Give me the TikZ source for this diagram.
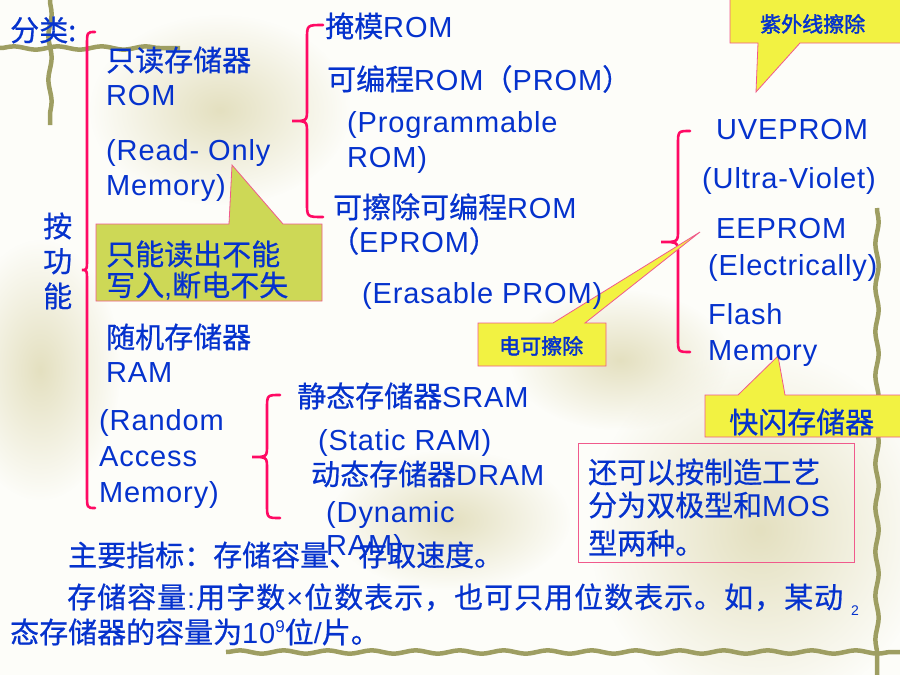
\documentclass[tikz,border=0pt]{standalone}
\usepackage{fontspec}
\setmainfont{Liberation Sans}[LetterSpace=3]
\newfontfamily\lat{Liberation Sans}[LetterSpace=3]
\newfontfamily\cjk{Noto Sans CJK SC}[FakeBold=0.6]
\newfontfamily\cjkb{Noto Sans CJK SC}[FakeBold=2]
\usetikzlibrary{decorations.pathmorphing,fadings}
\tikzfading[name=softblob, inner color=transparent!0, outer color=transparent!100]
\definecolor{tblue}{RGB}{5,50,205}
\definecolor{bpink}{RGB}{255,10,100}
\definecolor{cpink}{RGB}{240,90,140}
\definecolor{cyel}{RGB}{242,242,66}
\definecolor{colive}{RGB}{205,216,86}
\definecolor{vine}{RGB}{158,158,98}
\definecolor{beige}{RGB}{228,224,192}
\definecolor{bgc}{RGB}{253,253,249}
\def\spr#1{{#1}\futurelet\sprnext\sprstep}
\def\sprstep{\ifx\sprnext\relax\else\hfil\expandafter\spr\fi}
\newcommand{\pbrace}[6]{% xtip xmid xend ytop ymid ybot
  \draw[bracepath] (#3,#4) .. controls (#2,#4) .. (#2,#4+14) -- (#2,#5-12)
    .. controls (#2,#5) .. (#1,#5) .. controls (#2,#5) .. (#2,#5+12)
    -- (#2,#6-14) .. controls (#2,#6) .. (#3,#6);}
\tikzset{
  txt/.style={anchor=base west, inner sep=0pt, text=tblue, font=\fontsize{29}{34}\selectfont},
  smalltxt/.style={anchor=base west, inner sep=0pt, text=tblue, font=\fontsize{21}{24}\selectfont},
  bracepath/.style={draw=bpink, line width=2.6pt, line cap=round},
  callout/.style={draw=cpink, line width=0.8pt, fill=cyel},
  vinestyle/.style={draw=vine, line width=4.5pt, decorate, decoration={snake, amplitude=1.6pt, segment length=44pt}},
  blob/.style={fill=beige, path fading=softblob}
}
\begin{document}
\begin{tikzpicture}[x=1pt,y=-1pt]
\useasboundingbox (0,0) rectangle (900,675);
\fill[bgc] (0,0) rectangle (900,675);
% soft background texture
\fill[blob] (220,110) ellipse (130 and 95);
\fill[blob] (40,370) ellipse (80 and 130);
\fill[blob] (760,530) ellipse (170 and 180);
\fill[blob] (620,360) ellipse (110 and 70);
\fill[blob] (450,520) ellipse (120 and 70);
% vines
\draw[vinestyle] (0,48) -- (180,48);
\draw[vinestyle] (50,0) -- (50,125);
\draw[vinestyle] (877,208) -- (877,675);
\draw[vinestyle] (226,652) -- (900,652);
% braces
\pbrace{82}{87}{95}{32}{270}{508}
\pbrace{292}{307}{323}{25}{121}{217}
\pbrace{661}{678}{690}{131}{242}{352}
\pbrace{252}{267}{280}{395}{457}{518}
% callouts
\draw[callout, fill=colive] (96,224) -- (229,224) -- (232,165) -- (283,224) -- (322,224) -- (322,301) -- (96,301) -- cycle;
\draw[callout] (730,-2) -- (902,-2) -- (902,43) -- (800,43) -- (756,92) -- (758,43) -- (730,43) -- cycle;
\draw[callout] (478,323) -- (553,323) -- (700,232) -- (585,323) -- (606,323) -- (606,366) -- (478,366) -- cycle;
\draw[callout] (705,395) -- (738,395) -- (778,356) -- (785,395) -- (902,395) -- (902,437) -- (705,437) -- cycle;
\draw[draw=cpink, line width=0.9pt] (578,443) rectangle (854,562);
% texts
\node[txt] (t1) at (10,41) {\cjk 分类:};
\node[txt] (rom1) at (106,71) {\cjk 只读存储器};
\node[txt] (rom2) at (106,105) {ROM};
\node[txt] (rom3) at (106,160) {(Read- Only};
\node[txt] (rom4) at (106,195) {Memory)};
\node[txt] (an) at (43,237) {\cjk 按};
\node[txt] (gong) at (43,272) {\cjk 功};
\node[txt] (neng) at (43,307) {\cjk 能};
\node[txt] (c1a) at (106,265) {\cjk 只能读出不能};
\node[txt] (c1b) at (106,296) {\cjk 写入{\lat ,}断电不失};
\node[txt] (m1) at (325,37) {{\cjk 掩模}ROM};
\node[txt] (p1) at (327,90) {{\cjk 可编程}ROM{\cjk （}PROM{\cjk ）}};
\node[txt] (p2) at (347,132) {(Programmable};
\node[txt] (p3) at (347,167) {ROM)};
\node[txt] (e1) at (333,218) {{\cjk 可擦除可编程}ROM};
\node[txt] (e2) at (330,252) {{\cjk （}EPROM{\cjk ）}};
\node[txt] (e3) at (362,303) {(Erasable PROM)};
\node[txt] (u1) at (716,139) {UVEPROM};
\node[txt] (u2) at (702,188) {(Ultra-Violet)};
\node[txt] (ee1) at (716,238) {EEPROM};
\node[txt] (ee2) at (708,275) {(Electrically)};
\node[txt] (f1) at (708,324) {Flash};
\node[txt] (f2) at (708,360) {Memory};
\node[txt] (r1) at (106,348) {\cjk 随机存储器};
\node[txt] (r2) at (106,382) {RAM};
\node[txt] (r3) at (99,430) {(Random};
\node[txt] (r4) at (99,466) {Access};
\node[txt] (r5) at (99,502) {Memory)};
\node[txt] (s1) at (297,407) {{\cjk 静态存储器}SRAM};
\node[txt] (s2) at (318,450) {(Static RAM)};
\node[txt] (d1) at (311,485) {{\cjk 动态存储器}DRAM};
\node[txt] (d2) at (326,522) {(Dynamic};
\node[txt] (d3) at (326,555) {RAM)};
\node[txt] (b1) at (68,566) {\cjk 主要指标：存储容量、存取速度。};
\node[txt] (b2) at (67,608) {\makebox[776pt][s]{\cjk\spr 存储容量{\lat :}用字数{\lat ×}位数表示，也可只用位数表示。如，某动\relax}};
\node[txt] (b3) at (10,643) {{\cjk 态存储器的容量为}10\raisebox{11pt}{\fontsize{17}{17}\selectfont 9}{\cjk 位}/{\cjk 片。}};
\node[txt, font=\fontsize{14}{16}\selectfont] (pg) at (851,615) {2};
\node[txt] (x1) at (588,483) {\cjk 还可以按制造工艺};
\node[txt] (x2) at (588,516) {{\cjk 分为双极型和}MOS};
\node[txt] (x3) at (588,554) {\cjk 型两种。};
\node[smalltxt] (uv) at (760,32) {\cjkb 紫外线擦除};
\node[smalltxt] (dk) at (499,354) {\cjkb 电可擦除};
\node[txt] (kx) at (729,433) {\cjk 快闪存储器};
\end{tikzpicture}
\end{document}
